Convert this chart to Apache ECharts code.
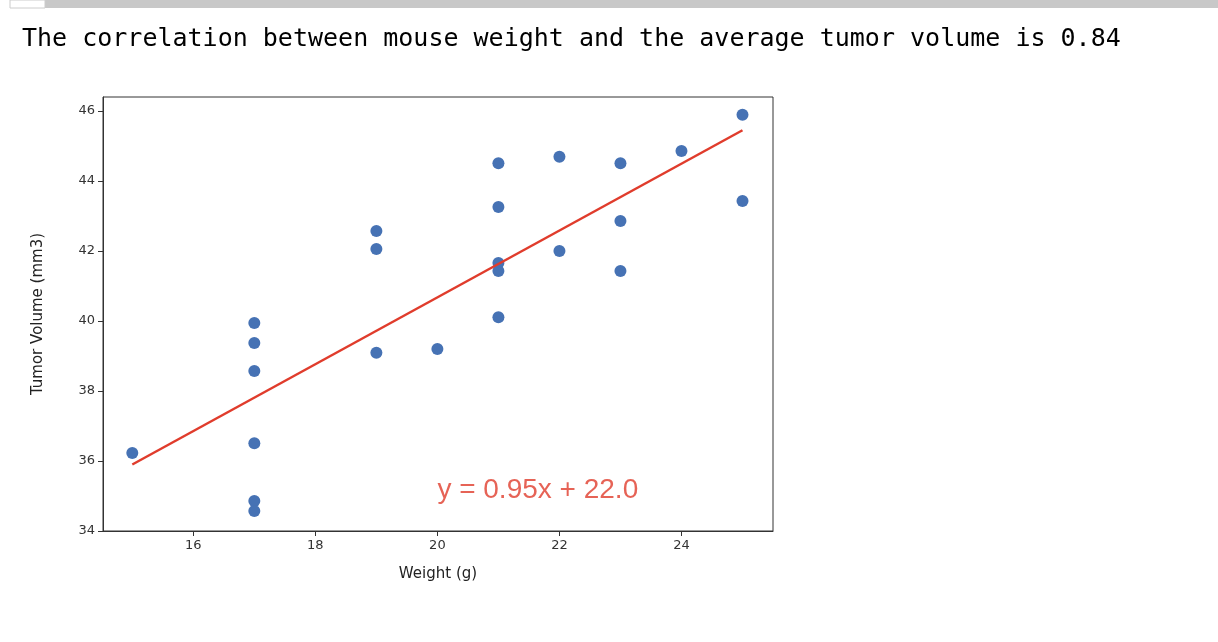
<!DOCTYPE html>
<html>
<head>
<meta charset="utf-8">
<script src="https://cdn.jsdelivr.net/npm/echarts@6/dist/echarts.min.js"></script>
<style>html,body{margin:0;padding:0;background:#fff}#main{width:1218px;height:642px}</style>
</head>
<body>
<div id="main"></div>
<script>
var weights = [15, 17, 17, 17, 17, 17, 17, 19, 19, 19, 20, 21, 21, 21, 21, 21, 22, 22, 23, 23, 23, 24, 25, 25];
var volumes = [36.23, 34.86, 34.57, 36.51, 38.57, 39.37, 39.94, 42.57, 42.06, 39.09, 39.2, 44.51, 43.26, 41.66, 41.43, 40.11, 44.69, 42.0, 44.51, 42.86, 41.43, 44.86, 45.89, 43.43];
var xTicks = [16, 18, 20, 22, 24];
var lineX = [15, 25];
var lineY = [35.9, 45.45];

var points = weights.map(function (w, i) { return [w, volumes[i]]; });
var fitLine = lineX.map(function (x, i) { return [x, lineY[i]]; });

var myChart = echarts.init(document.getElementById('main'));
var option = {
    animation: false,
    grid: {left: 103, top: 97, right: 445, bottom: 111, show: true, borderColor: '#333', borderWidth: 1},
    graphic: [
        {type: 'rect', shape: {x: 45, y: 0, width: 1173, height: 8}, style: {fill: '#c8c8c8'}},
        {type: 'rect', shape: {x: 10, y: 0, width: 35, height: 8}, style: {fill: '#fff', stroke: '#ccc'}},
        {type: 'text', left: 22, top: 27, style: {text: 'The correlation between mouse weight and the average tumor volume is 0.84', font: '25px "DejaVu Sans Mono", "Liberation Mono", monospace', fill: '#000'}}
    ],
    xAxis: {
        type: 'value', min: 14.52, max: 25.5,
        name: 'Weight (g)', nameLocation: 'middle', nameGap: 36,
        nameTextStyle: {fontSize: 15, color: '#222', fontFamily: 'DejaVu Sans'},
        axisLine: {show: true, lineStyle: {color: '#333'}},
        axisTick: {show: true, customValues: xTicks, lineStyle: {color: '#333'}},
        splitLine: {show: false},
        axisLabel: {color: '#333', fontSize: 13, fontFamily: 'DejaVu Sans', customValues: xTicks}
    },
    yAxis: {
        type: 'value', min: 34, max: 46.4, interval: 2,
        name: 'Tumor Volume (mm3)', nameLocation: 'middle', nameGap: 57,
        nameTextStyle: {fontSize: 15, color: '#222', fontFamily: 'DejaVu Sans'},
        axisLine: {show: true, lineStyle: {color: '#333'}},
        axisTick: {show: true, lineStyle: {color: '#333'}},
        splitLine: {show: false},
        axisLabel: {color: '#333', fontSize: 13, fontFamily: 'DejaVu Sans', showMaxLabel: false}
    },
    series: [
        {type: 'scatter', data: points, symbolSize: 12, itemStyle: {color: '#4672b4', opacity: 1}},
        {type: 'line', data: fitLine, symbol: 'none', lineStyle: {color: '#e03c2c', width: 2.5}, z: 3},
        {type: 'scatter', data: [[20, 35.15]], symbolSize: 0, silent: true,
            label: {show: true, position: 'right', distance: 0, formatter: 'y = 0.95x + 22.0', color: '#e03c2c', fontSize: 28, fontFamily: 'Liberation Sans'}}
    ]
};
myChart.setOption(option);
window.onresize = function () { myChart.resize(); };
</script>
</body>
</html>
